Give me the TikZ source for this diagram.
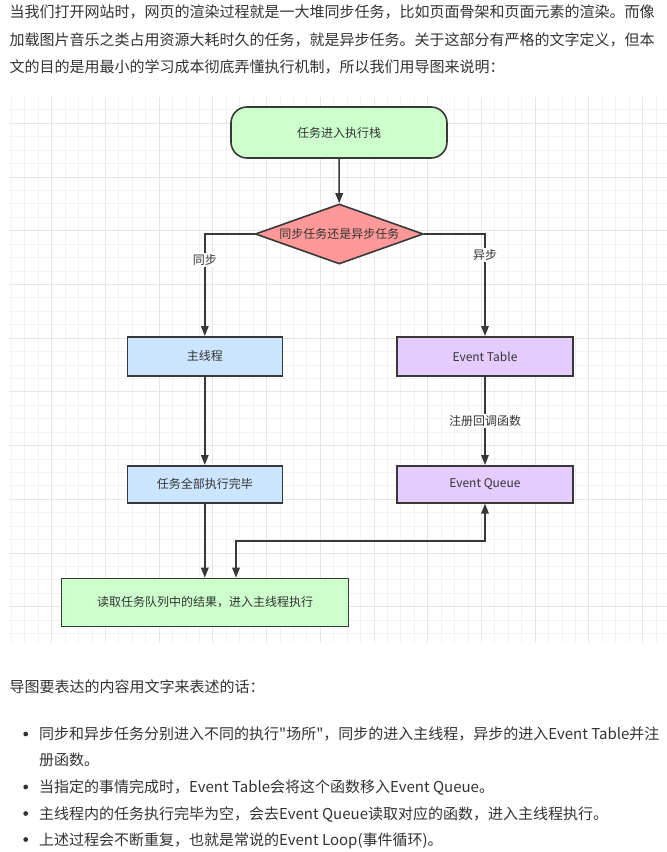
\documentclass[tikz,border=0pt]{standalone}
\usepackage{fontspec}
\setmainfont{Noto Sans CJK SC}[Ligatures=TeXOff]
\usetikzlibrary{shapes.geometric,arrows.meta}
\definecolor{txt}{HTML}{333333}
\definecolor{edgec}{HTML}{383838}
\definecolor{gminorc}{HTML}{F2F2F2}
\definecolor{gmajorc}{HTML}{E6E6E6}
\definecolor{greenf}{HTML}{CCFFCC}
\definecolor{redf}{HTML}{FF9999}
\definecolor{bluef}{HTML}{CCE5FF}
\definecolor{purplef}{HTML}{E5CCFF}
\tikzset{
  gminor/.style={draw=gminorc, line width=0.9pt},
  gmajor/.style={draw=gmajorc, line width=1pt},
  fbox/.style={draw=edgec, line width=1.6pt, inner sep=0pt, text=txt,
    font=\fontsize{12}{14}\selectfont},
  elabel/.style={fill=white, inner sep=1.5pt, text=txt, font=\fontsize{12}{14}\selectfont},
  conn/.style={draw=edgec, line width=1.6pt, -{Triangle[length=10pt,width=7.5pt]}},
  dconn/.style={draw=edgec, line width=1.6pt, {Triangle[length=10pt,width=7.5pt]}-{Triangle[length=10pt,width=7.5pt]}},
  para/.style={anchor=base west, inner sep=0pt, text=txt, font=\fontsize{15}{18}\selectfont},
}
\begin{document}
\begin{tikzpicture}[x=1pt,y=-1pt]
\useasboundingbox[fill=white] (0,0) rectangle (667,852);

% grid background
\begin{scope}
\clip (9,97) rectangle (667,643);
\foreach \i in {0,...,48} \draw[gminor] ({11.43+13.43*\i},97) -- ({11.43+13.43*\i},643);
\foreach \j in {0,...,41} \draw[gminor] (9,{96.4+13.43*\j}) -- (667,{96.4+13.43*\j});
\foreach \i in {0,...,11} \draw[gmajor] ({51.7+53.72*\i},97) -- ({51.7+53.72*\i},643);
\foreach \j in {0,...,9} \draw[gmajor] (9,{123.3+53.72*\j}) -- (667,{123.3+53.72*\j});
\end{scope}

% top paragraph
\node[para] (p1) at (9.5,17.5) {当我们打开网站时，网页的渲染过程就是一大堆同步任务，比如页面骨架和页面元素的渲染。而像};
\node[para] (p2) at (9.5,45.5) {加载图片音乐之类占用资源大耗时久的任务，就是异步任务。关于这部分有严格的文字定义，但本};
\node[para] (p3) at (9.5,72.5) {文的目的是用最小的学习成本彻底弄懂执行机制，所以我们用导图来说明：};

% flowchart nodes
\node[fbox, fill=greenf, rounded corners=16pt, minimum width=216pt, minimum height=51pt] (start) at (339,132.5) {任务进入执行栈};
\node[fbox, fill=redf, shape=diamond, aspect=2.8, minimum width=168pt, minimum height=60pt] (dia) at (339.3,234) {同步任务还是异步任务};
\node[fbox, fill=bluef, minimum width=155pt, minimum height=39pt] (main) at (204.8,356.3) {主线程};
\node[fbox, fill=purplef, minimum width=176pt, minimum height=39pt] (table) at (485,356.3) {Event Table};
\node[fbox, fill=bluef, minimum width=155pt, minimum height=37pt] (done) at (204.8,484.3) {任务全部执行完毕};
\node[fbox, fill=purplef, minimum width=176pt, minimum height=37pt] (queue) at (485,484.3) {Event Queue};
\node[fbox, fill=greenf, minimum width=287pt, minimum height=48pt] (read) at (205,602.5) {读取任务队列中的结果，进入主线程执行};
\coordinate (bend) at (236,541);

% connectors
\draw[conn] (start) -- (dia);
\draw[conn] (dia.west) -| (main.north);
\draw[conn] (dia.east) -| (table.north);
\draw[conn] (main) -- (done);
\draw[conn] (table) -- (queue);
\draw[conn] (done.south) -- (done.south |- read.north);
\draw[dconn] (queue.south) |- (bend) -- (bend |- read.north);

% edge labels
\node[elabel] (lsync) at (204.8,260) {同步};
\node[elabel] (lasync) at (485,255) {异步};
\node[elabel] (lreg) at (485,421) {注册回调函数};

% lower text
\node[para] (q0) at (9.5,692.5) {导图要表达的内容用文字来表述的话：};
\fill[txt] (25.7,734) circle (2.4pt);
\fill[txt] (25.7,787) circle (2.4pt);
\fill[txt] (25.7,813.5) circle (2.4pt);
\fill[txt] (25.7,839.5) circle (2.4pt);
\node[para] (b1) at (39,739.5) {同步和异步任务分别进入不同的执行"场所"，同步的进入主线程，异步的进入Event Table并注};
\node[para] (b1b) at (39,765.5) {册函数。};
\node[para] (b2) at (39,792.5) {当指定的事情完成时，Event Table会将这个函数移入Event Queue。};
\node[para] (b3) at (39,819) {主线程内的任务执行完毕为空，会去Event Queue读取对应的函数，进入主线程执行。};
\node[para] (b4) at (39,845) {上述过程会不断重复，也就是常说的Event Loop(事件循环)。};
\end{tikzpicture}
\end{document}
